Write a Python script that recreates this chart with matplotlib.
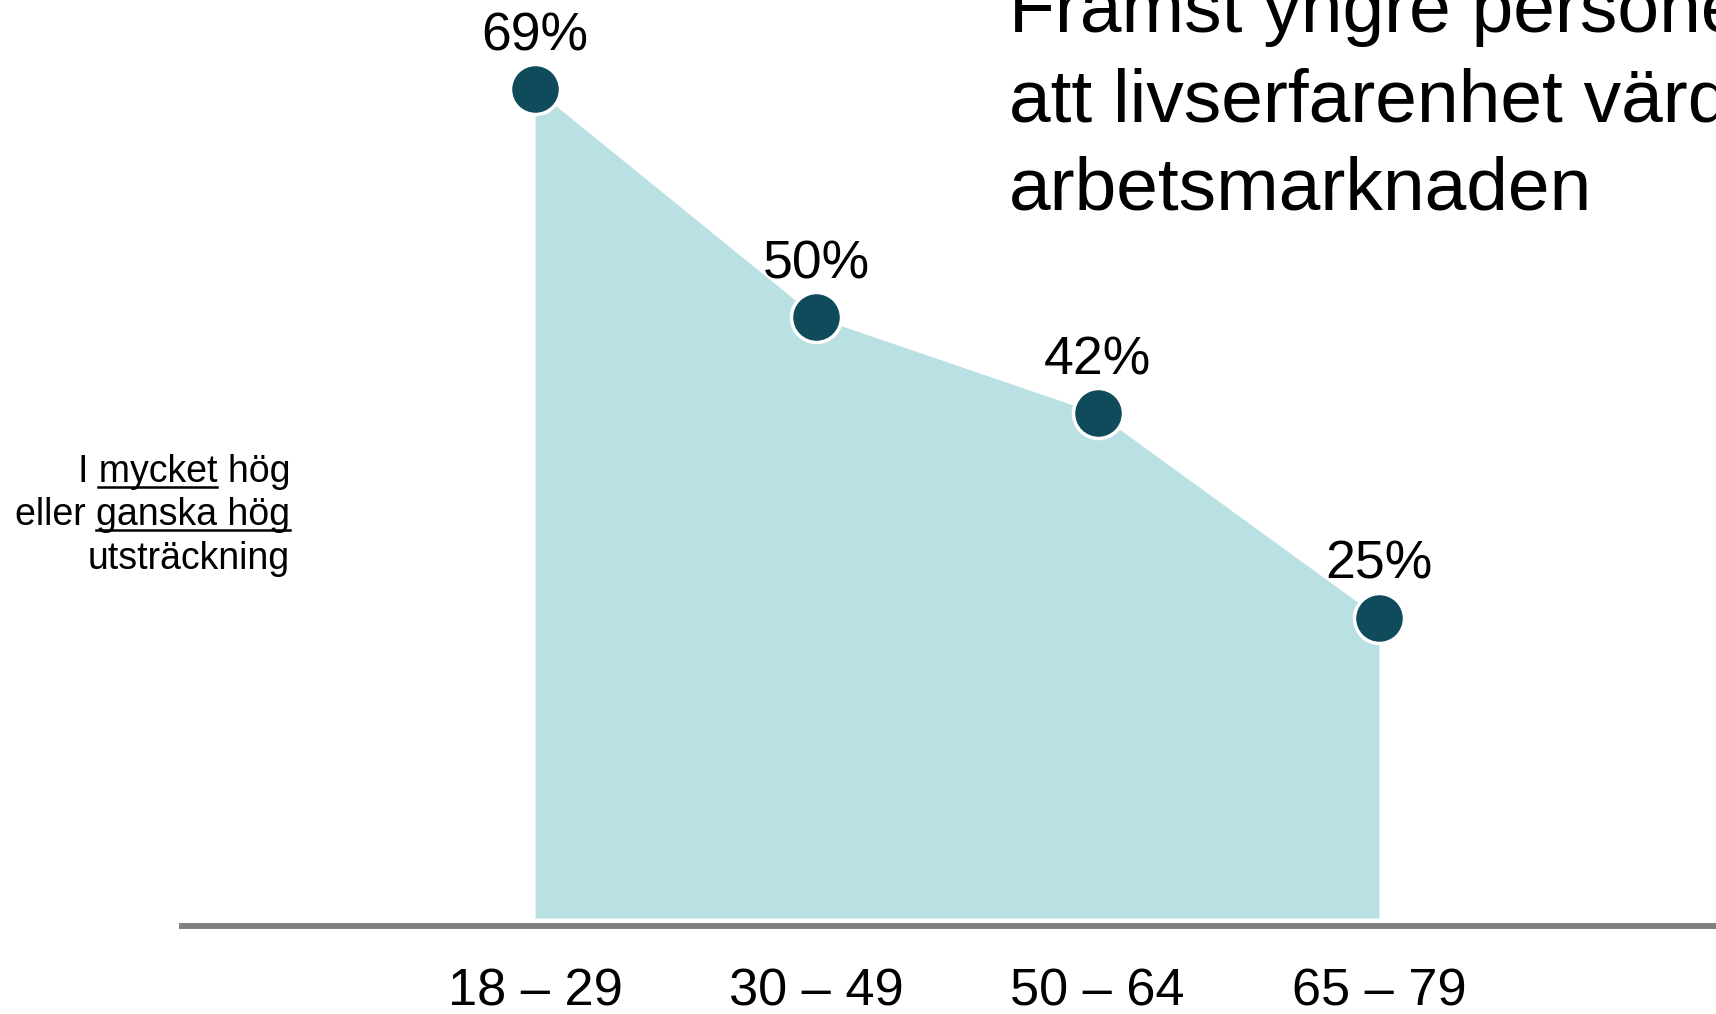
#!/usr/bin/env python

import matplotlib
matplotlib.use("Agg")
import matplotlib.pyplot as plt
from matplotlib.lines import Line2D

plt.rcParams["font.family"] = ["Liberation Sans", "DejaVu Sans"]

# data
age_groups = ["18 – 29", "30 – 49", "50 – 64", "65 – 79"]
shares = [69, 50, 42, 25]
value_labels = ["69%", "50%", "42%", "25%"]

title_lines = ["Framst yngre personer anser",
               "att livserfarenhet värderas på",
               "arbetsmarknaden"]
side_lines = ["I mycket hög", "eller ganska hög", "utsträckning"]
side_underlined = ["mycket", "ganska hög", None]

W, H = 1716, 1014
fill_color = "#b9e1e3"
dot_color = "#0f4b5b"
axis_color = "#808080"


def fx(px):
    return px / W


def fy(py):
    return 1 - py / H


def main():
    fig = plt.figure(figsize=(W / 100, H / 100), dpi=100)

    # axes placed so that the bottom spine is the grey base line
    ax = fig.add_axes([fx(182), fy(925.5), 1 - fx(182), 925.5 / H])
    x = list(range(len(shares)))
    ax.fill_between(x, shares, 0, color=fill_color, linewidth=0, zorder=1)
    ax.plot(x, shares, linestyle="none", marker="o", markersize=36,
            markerfacecolor=dot_color, markeredgecolor="white",
            markeredgewidth=2.5, zorder=3, clip_on=False)

    for xi, v, lab in zip(x, shares, value_labels):
        ax.annotate(lab, (xi, v), xytext=(0, 28), textcoords="offset points",
                    ha="center", va="baseline", fontsize=38.5, color="black")

    ax.set_xlim(-1.255, 4.198)
    ax.set_ylim(-0.62, 76.4)
    ax.set_xticks(x, age_groups, fontsize=37.7)
    ax.tick_params(axis="x", length=0, pad=30)
    ax.set_yticks([])
    for side in ["top", "left", "right"]:
        ax.spines[side].set_visible(False)
    ax.spines["bottom"].set_color(axis_color)
    ax.spines["bottom"].set_linewidth(4.3)

    # title, partly cut by the top and right edges
    for line, base in zip(title_lines, [32, 122, 210]):
        fig.text(fx(1009), fy(base), line, fontsize=54, ha="left",
                 va="baseline", color="black")

    # side label with underlined words
    fig.canvas.draw()
    r = fig.canvas.get_renderer()

    def width(s, size):
        t = fig.text(0, 0, s, fontsize=size)
        w = t.get_window_extent(r).width
        t.remove()
        return w

    side_size = 27
    right = 290
    for line, under, base in zip(side_lines, side_underlined, [482, 525, 569]):
        fig.text(fx(right), fy(base), line, fontsize=side_size, ha="right",
                 va="baseline", color="black")
        if under:
            left = right - width(line, side_size)
            end_part = line[:line.index(under) + len(under)]
            x1 = left + width(end_part, side_size)
            x0 = x1 - width(under, side_size)
            fig.add_artist(Line2D([fx(x0), fx(x1)], [fy(base + 5), fy(base + 5)],
                                  color="black", linewidth=1.8,
                                  transform=fig.transFigure))

    fig.savefig("out.png", dpi=100)


if __name__ == "__main__":
    main()
